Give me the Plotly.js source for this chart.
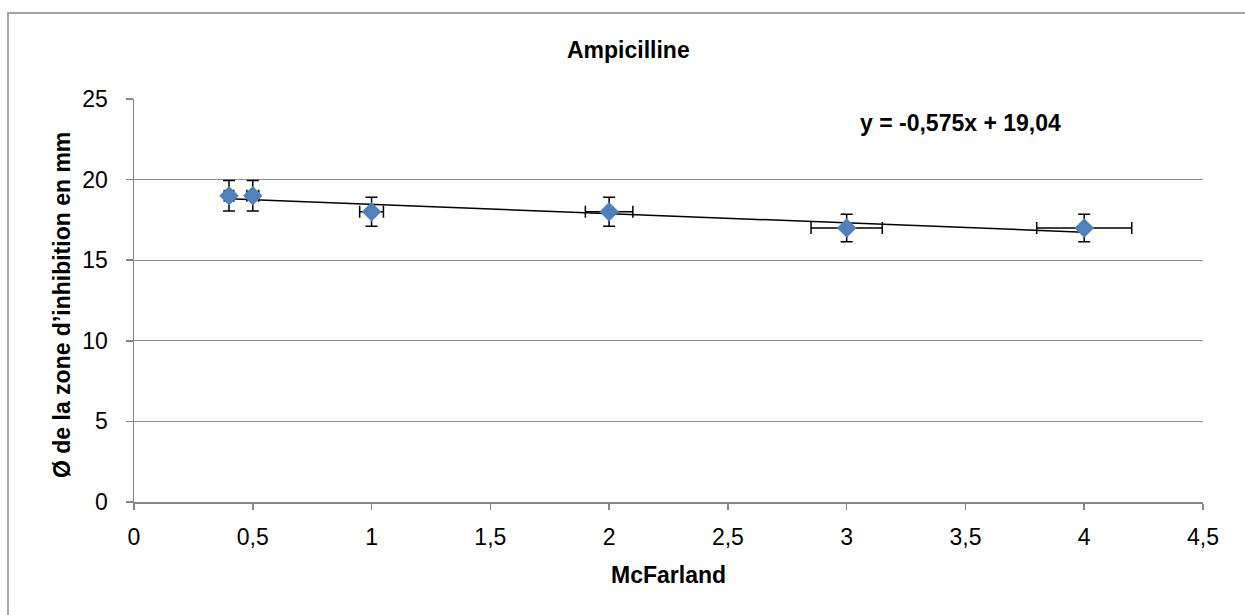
<!DOCTYPE html>
<html>
<head>
<meta charset="utf-8">
<script src="https://cdn.plot.ly/plotly-3.0.1.min.js"></script>
<style>html,body{margin:0;padding:0;background:#fff;}#chart{width:1245px;height:615px;}</style>
</head>
<body>
<div id="chart"></div>
<script>
const mcFarland = [0.4, 0.5, 1, 2, 3, 4];
const diametre = [19, 19, 18, 18, 17, 17];
const errorPercent = 5;
const trendSlope = -0.575;
const trendIntercept = 19.04;
const trendX = [0.4, 4];
const trendY = trendX.map(x => trendSlope * x + trendIntercept);
const xTickVals = [0, 0.5, 1, 1.5, 2, 2.5, 3, 3.5, 4, 4.5];
const xTickText = ['0', '0,5', '1', '1,5', '2', '2,5', '3', '3,5', '4', '4,5'];
const yTickVals = [0, 5, 10, 15, 20, 25];
const yTickText = ['0', '5', '10', '15', '20', '25'];
const chartTitle = 'Ampicilline';
const xTitle = 'McFarland';
const yTitle = 'Ø de la zone d\u2019inhibition en mm';
const equation = 'y = -0,575x + 19,04';

const FONT = 'Liberation Sans, Arial, sans-serif';

const traces = [
  {
    x: trendX, y: trendY, type: 'scatter', mode: 'lines',
    line: {color: '#000000', width: 1.5}, hoverinfo: 'skip', showlegend: false
  },
  {
    x: mcFarland, y: diametre, type: 'scatter', mode: 'markers',
    marker: {symbol: 'diamond', size: 15, color: '#4F81BD'},
    error_y: {type: 'percent', value: errorPercent, color: '#000000', thickness: 1.5, width: 6},
    error_x: {type: 'percent', value: errorPercent, color: '#000000', thickness: 1.5, width: 6},
    showlegend: false
  }
];

const layout = {
  width: 1245, height: 615,
  margin: {l: 134, r: 42, t: 99, b: 113},
  paper_bgcolor: '#ffffff', plot_bgcolor: '#ffffff',
  font: {family: FONT, color: '#000000', size: 23},
  showlegend: false,
  xaxis: {
    range: [0, 4.5], tickvals: xTickVals, ticktext: xTickText,
    showgrid: false, zeroline: false, showline: true, linecolor: '#868686', linewidth: 1.5,
    ticks: 'outside', ticklen: 6, tickcolor: '#868686', tickwidth: 1.5,
    ticklabelstandoff: 8,
    tickfont: {family: FONT, size: 23, color: '#000'}
  },
  yaxis: {
    range: [0, 25], tickvals: yTickVals, ticktext: yTickText,
    showgrid: true, gridcolor: '#8c8c8c', gridwidth: 1, zeroline: false,
    showline: true, linecolor: '#868686', linewidth: 1.5,
    ticks: 'outside', ticklen: 7, tickcolor: '#868686', tickwidth: 1.5,
    ticklabelstandoff: 13,
    tickfont: {family: FONT, size: 23, color: '#000'}
  },
  annotations: [
    {text: '<b>' + chartTitle + '</b>', xref: 'paper', yref: 'paper',
     x: (628 - 134) / 1069, y: (502 - 50) / 403, xanchor: 'center', yanchor: 'middle',
     showarrow: false, font: {family: FONT, size: 23}},
    {text: '<b>' + xTitle + '</b>', xref: 'paper', yref: 'paper',
     x: 0.5, y: (502 - 575) / 403, xanchor: 'center', yanchor: 'middle',
     showarrow: false, font: {family: FONT, size: 23}},
    {text: '<b>' + yTitle + '</b>', xref: 'paper', yref: 'paper', textangle: -90,
     x: (62 - 134) / 1069, y: (502 - 305) / 403, xanchor: 'center', yanchor: 'middle',
     showarrow: false, font: {family: FONT, size: 23}},
    {text: '<b>' + equation + '</b>', xref: 'paper', yref: 'paper',
     x: (960 - 134) / 1069, y: (502 - 123) / 403, xanchor: 'center', yanchor: 'middle',
     showarrow: false, font: {family: FONT, size: 23}}
  ],
  shapes: [
    {type: 'rect', xref: 'paper', yref: 'paper',
     x0: (8 - 134) / 1069, x1: (1249 - 134) / 1069,
     y0: (502 - 13) / 403, y1: (502 - 618) / 403,
     line: {color: '#868686', width: 1.5}, fillcolor: 'rgba(0,0,0,0)', layer: 'below'}
  ]
};

Plotly.newPlot('chart', traces, layout, {displayModeBar: false, staticPlot: true});
</script>
</body>
</html>
